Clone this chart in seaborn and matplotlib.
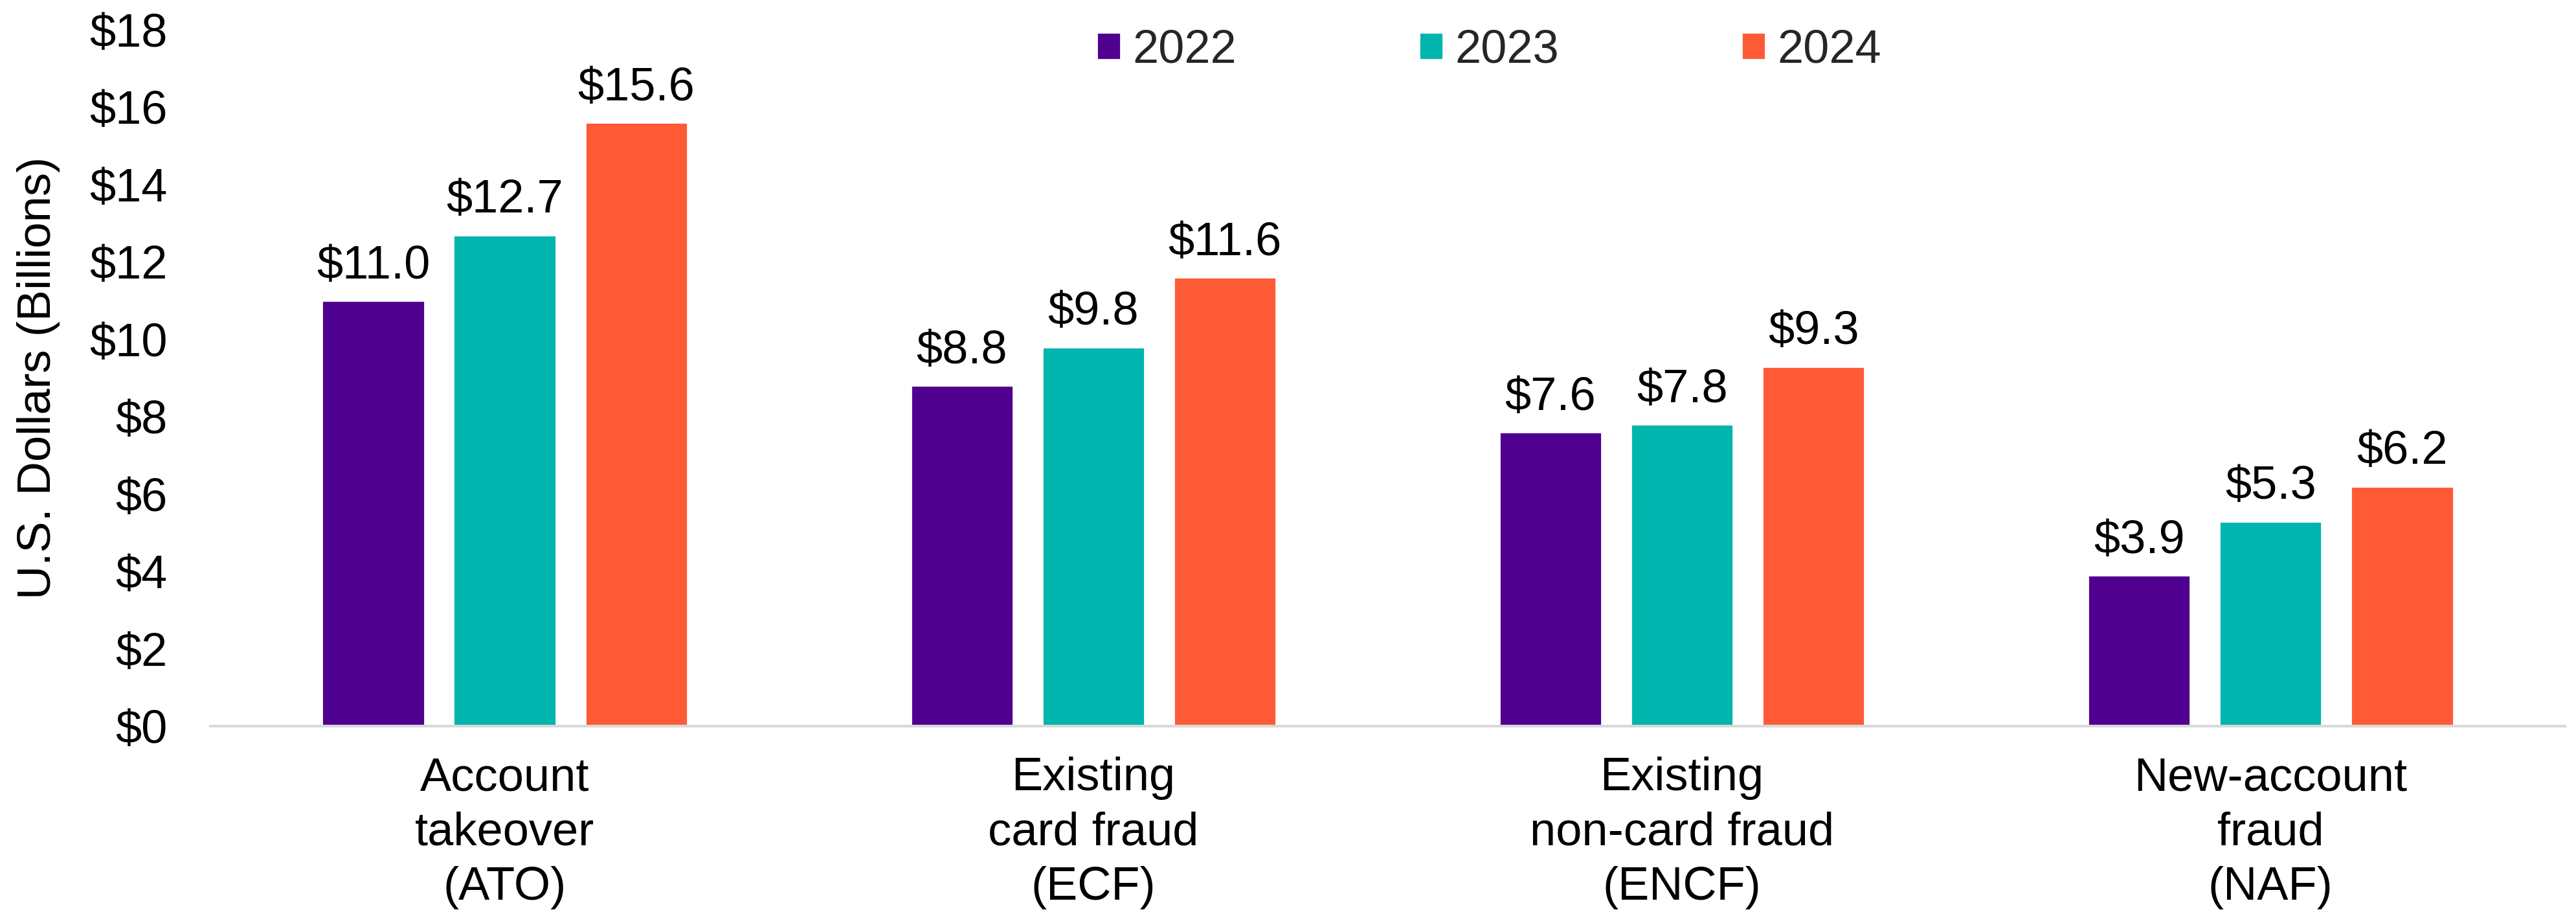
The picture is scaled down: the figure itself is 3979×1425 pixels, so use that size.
import pandas as pd
import matplotlib.pyplot as plt
import seaborn as sns

# Chart data
categories = ['Account\ntakeover\n(ATO)', 'Existing\ncard fraud\n(ECF)',
              'Existing\nnon-card fraud\n(ENCF)', 'New-account\nfraud\n(NAF)']
years = ['2022', '2023', '2024']
values_2022 = [11.0, 8.8, 7.6, 3.9]
values_2023 = [12.7, 9.8, 7.8, 5.3]
values_2024 = [15.6, 11.6, 9.3, 6.2]
y_ticks = [0, 2, 4, 6, 8, 10, 12, 14, 16, 18]

colors = ['#50008F', '#00B5AD', '#FF5A36']
FONT_SIZE = 26

sns.set_theme(style='white')
plt.rcParams['font.family'] = ['Liberation Sans', 'DejaVu Sans']


def build_frame() -> pd.DataFrame:
    """Long format table for seaborn."""
    rows = []
    for year, vals in zip(years, [values_2022, values_2023, values_2024]):
        for cat, v in zip(categories, vals):
            rows.append({'category': cat, 'year': year, 'value': v})
    return pd.DataFrame(rows)


def main() -> None:
    df = build_frame()
    fig = plt.figure(figsize=(19.895, 7.125), dpi=200)
    ax = fig.add_axes([0.0817, 0.2133, 0.914, 0.7544])

    sns.barplot(data=df, x='category', y='value', hue='year', hue_order=years,
                palette=colors, width=0.67, gap=0.22, saturation=1,
                errorbar=None, ax=ax)

    for container in ax.containers:
        ax.bar_label(container, labels=[f'${v:.1f}' for v in container.datavalues],
                     padding=7, fontsize=FONT_SIZE, color='black')

    ax.set_xlim(-0.5, 3.5)
    ax.set_ylim(0, 18)
    ax.set_yticks(y_ticks)
    ax.set_yticklabels([f'${t}' for t in y_ticks])
    ax.tick_params(axis='y', length=0, pad=24, labelsize=FONT_SIZE, colors='black')
    ax.tick_params(axis='x', length=0, pad=17, labelsize=FONT_SIZE, colors='black')
    for lbl in ax.get_xticklabels():
        lbl.set_linespacing(1.33)
    ax.set_xlabel('')
    ax.set_ylabel('U.S. Dollars (Billions)', fontsize=FONT_SIZE, color='black', labelpad=16)

    for side in ['top', 'right', 'left']:
        ax.spines[side].set_visible(False)
    ax.spines['bottom'].set_color('#D9D9D9')
    ax.spines['bottom'].set_linewidth(1.5)

    handles, labels = ax.get_legend_handles_labels()
    ax.legend(handles, labels, loc='upper center', bbox_to_anchor=(0.543, 1.062),
              ncol=3, frameon=False, fontsize=FONT_SIZE, handlelength=0.51,
              handleheight=0.51, handletextpad=0.26, columnspacing=3.9)

    fig.savefig('out.png', dpi=200)
    plt.close(fig)


if __name__ == '__main__':
    main()
